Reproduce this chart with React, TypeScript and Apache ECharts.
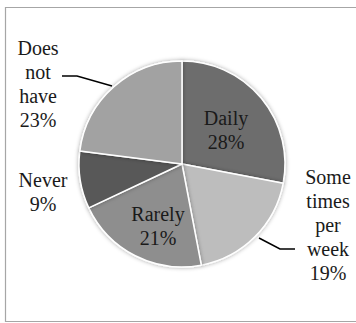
import React, { useEffect, useRef } from "react";
import * as echarts from "echarts";

const categories = ["Daily", "Some times per week", "Rarely", "Never", "Does not have"];
const values = [28, 19, 21, 9, 23];
const colors = ["#6d6d6d", "#bdbdbd", "#8e8e8e", "#585858", "#a2a2a2"];

// label placement (style only): centre of each label block and optional leader line
const labelPos: { x: number; y: number; line?: number[][] }[] = [
  { x: 226, y: 130 },
  { x: 328, y: 225, line: [[259, 238], [280, 249], [295, 249]] },
  { x: 158, y: 226 },
  { x: 43, y: 192 },
  { x: 38, y: 84, line: [[112, 86], [77, 76], [62, 76]] },
];

const FONT = "Liberation Serif";
const LINE_H = 24;

export default function App() {
  const ref = useRef<HTMLDivElement>(null);
  useEffect(() => {
    if (!ref.current) return;
    const chart = echarts.init(ref.current, null, { renderer: "svg" });

    const labelGraphics: any[] = [];
    categories.forEach((name, i) => {
      const lines = name.split(" ").concat([values[i] + "%"]);
      const lp = labelPos[i];
      const top = lp.y - ((lines.length - 1) * LINE_H) / 2;
      lines.forEach((s, k) => {
        labelGraphics.push({
          type: "text",
          x: lp.x,
          y: top + k * LINE_H,
          z: 10,
          silent: true,
          style: {
            text: s,
            fontFamily: FONT,
            fontSize: 20,
            fill: "#1a1a1a",
            align: "center",
            verticalAlign: "middle",
            textAlign: "center",
            textVerticalAlign: "middle",
          },
        });
      });
      if (lp.line) {
        labelGraphics.push({
          type: "polyline",
          z: 10,
          silent: true,
          shape: { points: lp.line },
          style: { fill: "none", stroke: "#000", lineWidth: 1.5 },
        });
      }
    });

    chart.setOption({
      animation: false,
      graphic: [
        {
          type: "rect",
          shape: { x: 5.5, y: 7.5, width: 352, height: 314 },
          style: { fill: "none", stroke: "#a6a6a6", lineWidth: 1.2 },
          silent: true,
        },
        ...labelGraphics,
      ],
      series: [
        {
          type: "pie",
          center: [182, 164],
          radius: 103,
          startAngle: 90,
          clockwise: true,
          avoidLabelOverlap: false,
          itemStyle: {
            borderColor: "#ffffff",
            borderWidth: 1.5,
            shadowBlur: 4,
            shadowColor: "rgba(0,0,0,0.35)",
          },
          label: { show: false },
          labelLine: { show: false },
          data: categories.map((name, i) => ({
            name,
            value: values[i],
            itemStyle: { color: colors[i] },
          })),
        },
      ],
    });
    return () => chart.dispose();
  }, []);
  return (
    <div
      ref={ref}
      style={{ position: "absolute", left: 0, top: 0, width: 356, height: 323, background: "#fff" }}
    />
  );
}
